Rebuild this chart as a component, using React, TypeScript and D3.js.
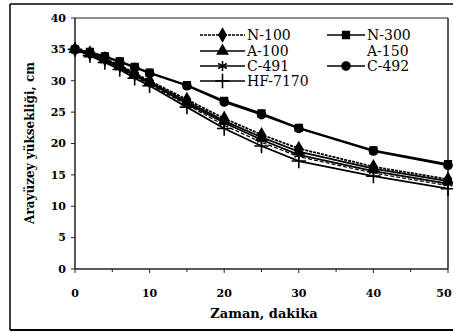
import React from 'react';
import * as d3 from 'd3';

// zaman (dakika)
const times = [0, 2, 4, 6, 8, 10, 15, 20, 25, 30, 40, 50];
// arayüzey yüksekliği (cm)
const n100 = [35, 34.4, 33.5, 32.5, 31.2, 30, 27, 24, 21.4, 19.2, 16.3, 14.3];
const n300 = [35, 34.6, 33.9, 33.1, 32.2, 31.3, 29.3, 26.8, 24.8, 22.5, 18.9, 16.7];
const a100 = [35, 34.3, 33.4, 32.3, 31, 29.8, 26.7, 23.6, 21, 18.7, 16, 14];
const a150 = [35, 34.1, 33.1, 32, 30.6, 29.4, 26.2, 22.9, 20.2, 17.9, 15.3, 13.3];
const c491 = [35, 34.2, 33.2, 32.1, 30.8, 29.6, 26.4, 23.3, 20.6, 18.2, 15.6, 13.6];
const c492 = [35, 34.5, 33.8, 33, 32.1, 31.2, 29.2, 26.6, 24.6, 22.4, 18.8, 16.5];
const hf7170 = [35, 34, 32.9, 31.8, 30.4, 29.2, 25.8, 22.4, 19.6, 17.2, 14.8, 12.8];

const yTicks = [0, 5, 10, 15, 20, 25, 30, 35, 40];
const xTicks = [0, 10, 20, 30, 40, 50];
const xMinor = [5, 15, 25, 35, 45];

const series = [
  { name: 'N-100', values: n100, symbol: d3.symbolDiamond, size: 50, filled: true, dash: '3,1', col: 0, row: 0 },
  { name: 'N-300', values: n300, symbol: d3.symbolSquare, size: 50, filled: true, dash: null, col: 1, row: 0 },
  { name: 'A-100', values: a100, symbol: d3.symbolTriangle, size: 50, filled: true, dash: null, col: 0, row: 1 },
  { name: 'A-150', values: a150, symbol: null, size: 0, filled: false, dash: '4,2', col: 1, row: 1 },
  { name: 'C-491', values: c491, symbol: d3.symbolAsterisk, size: 70, filled: false, dash: null, col: 0, row: 2 },
  { name: 'C-492', values: c492, symbol: d3.symbolCircle, size: 55, filled: true, dash: null, col: 1, row: 2 },
  { name: 'HF-7170', values: hf7170, symbol: d3.symbolPlus, size: 70, filled: false, dash: null, col: 0, row: 3 }
];

const font = 'DejaVu Serif';

export default function App() {
  const width = 453;
  const height = 333;
  const x = d3.scaleLinear().domain([0, 50]).range([75, 448]);
  const y = d3.scaleLinear().domain([0, 40]).range([269, 18]);

  const line = d3.line<number>()
    .x((d, i) => x(times[i]))
    .y(d => y(d));

  const sym = (s: any) => (s.symbol ? d3.symbol().type(s.symbol).size(s.size)() : '');

  const legX = [200, 327];
  const legW = [45, 38];
  const legY = [35, 51, 66, 81];

  const mark = (s: any, tx: number, ty: number, key: any) => (
    <path key={key} d={sym(s)} transform={`translate(${tx},${ty})`}
      fill={s.filled ? '#000' : 'none'} stroke="#000" strokeWidth={s.filled ? 1.2 : 1.6} />
  );

  return (
    <svg width={width} height={height} style={{ position: 'absolute', left: 0, top: 0, background: '#fff' }}>
      {/* dış çerçeve */}
      <line x1={10} y1={4} x2={453} y2={4} stroke="#000" strokeWidth={1.5} />
      <line x1={10} y1={4} x2={10} y2={330} stroke="#000" strokeWidth={1.5} />
      <line x1={10} y1={330} x2={453} y2={330} stroke="#000" strokeWidth={2} />

      {/* eksenler */}
      <line x1={x(0)} y1={y(40)} x2={x(50)} y2={y(40)} stroke="#222" strokeWidth={1} />
      <line x1={x(50)} y1={y(40)} x2={x(50)} y2={y(0)} stroke="#222" strokeWidth={1.5} />
      <line x1={x(0)} y1={y(0)} x2={x(0)} y2={y(40)} stroke="#222" strokeWidth={1.5} />
      <line x1={x(0)} y1={y(0)} x2={x(50)} y2={y(0)} stroke="#222" strokeWidth={1.5} />

      {yTicks.map(t => (
        <g key={'y' + t}>
          <line x1={x(0) - 4} x2={x(0)} y1={y(t)} y2={y(t)} stroke="#222" strokeWidth={1} />
          <text x={x(0) - 9} y={y(t)} dy="0.35em" textAnchor="end" fontFamily={font} fontSize={11} fontWeight="bold">{t}</text>
        </g>
      ))}
      {xTicks.map(t => (
        <g key={'x' + t}>
          <line x1={x(t)} x2={x(t)} y1={y(0)} y2={y(0) + 4} stroke="#222" strokeWidth={1} />
          <text x={Math.min(x(t), 444)} y={293} dy="0.35em" textAnchor="middle" fontFamily={font} fontSize={11} fontWeight="bold">{t}</text>
        </g>
      ))}
      {xMinor.map(t => (
        <line key={'m' + t} x1={x(t)} x2={x(t)} y1={y(0)} y2={y(0) + 3} stroke="#222" strokeWidth={1} />
      ))}

      <text x={264} y={313} dy="0.35em" textAnchor="middle" fontFamily={font} fontSize={13} fontWeight="bold">Zaman, dakika</text>
      <text transform="translate(30,143) rotate(-90)" textAnchor="middle" dy="0.35em" fontFamily={font} fontSize={12} fontWeight="bold">
        Arayüzey yüksekliği, cm
      </text>

      {/* seriler */}
      {series.map(s => (
        <g key={s.name}>
          <path d={line(s.values) || ''} fill="none" stroke="#000" strokeWidth={s.symbol ? 1.8 : 1.2}
            strokeDasharray={s.dash || undefined} />
          {s.symbol && s.values.map((v, i) => mark(s, x(times[i]), y(v), i))}
        </g>
      ))}

      {/* lejant */}
      {series.map(s => {
        const lx = legX[s.col];
        const ly = legY[s.row];
        return (
          <g key={'l' + s.name}>
            {s.symbol && (
              <>
                <line x1={lx} x2={lx + legW[s.col]} y1={ly} y2={ly} stroke="#000" strokeWidth={1.5}
                  strokeDasharray={s.dash || undefined} />
                {mark(s, lx + legW[s.col] / 2, ly, 'm')}
              </>
            )}
            <text x={lx + legW[s.col] + 2} y={ly} dy="0.35em" fontFamily={font} fontSize={14}>{s.name}</text>
          </g>
        );
      })}
    </svg>
  );
}
